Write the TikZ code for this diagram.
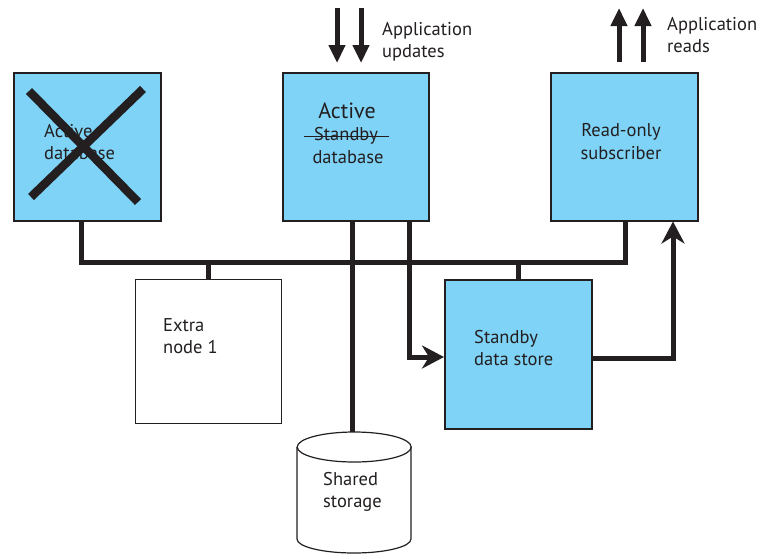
\documentclass[tikz,border=0pt]{standalone}
\usepackage{fontspec}
\setmainfont{PT Sans}
\usetikzlibrary{arrows.meta,calc}
\definecolor{boxblue}{RGB}{126,211,247}
\definecolor{ink}{RGB}{35,31,32}
\begin{document}
\begin{tikzpicture}[x=1pt,y=-1pt,
  box/.style={draw=ink, line width=1.5pt, fill=boxblue, inner sep=0pt, anchor=north west},
  wbox/.style={draw=ink, line width=1.2pt, fill=white, inner sep=0pt, anchor=north west},
  lbl/.style={font=\fontsize{18.5}{22.5}\selectfont, text=ink, inner sep=0pt, align=left, anchor=west},
  clbl/.style={font=\fontsize{18.5}{23}\selectfont, text=ink, inner sep=0pt, align=center},
  conn/.style={draw=ink, line width=5pt},
  apparrow/.style={draw=ink, line width=5pt, -{Triangle[length=18pt,width=16pt]}},
  flowarrow/.style={draw=ink, line width=5pt, -{Stealth[length=22pt,width=23pt,inset=7pt]}},
  cross/.style={draw=ink, line width=8.5pt}]
\useasboundingbox[fill=white] (0,0) rectangle (760,558);

% boxes
\node[box, minimum width=147pt, minimum height=148pt] (ldb) at (13,72) {};
\node[box, minimum width=146pt, minimum height=148pt] (adb) at (282,72) {};
\node[box, minimum width=147pt, minimum height=148pt] (ro) at (550,72) {};
\node[wbox, minimum width=146.5pt, minimum height=144pt] (extra) at (134.5,279) {};
\node[box, minimum width=147pt, minimum height=149pt] (sds) at (444,279) {};

% shared storage cylinder
\node[inner sep=0pt, minimum width=114pt, minimum height=122pt, anchor=north west] (stor) at (297,432) {};
\draw[ink, line width=1.2pt, fill=white] (stor.north west) ++(0,15) -- ++(0,92)
  arc[start angle=180, end angle=0, x radius=57, y radius=14] -- ++(0,-92);
\draw[ink, line width=1.2pt] ($(stor.north)+(0,15)$) ellipse [x radius=57, y radius=15];

% texts
\node[lbl] (tldb) at (44,142) {Active\\database};
\node[text=ink, inner sep=0pt, font=\fontsize{22}{26}\selectfont, anchor=base] (tact) at (347,118) {Active};
\node[text=ink, inner sep=0pt, font=\fontsize{18.5}{22}\selectfont, anchor=base] (tsb) at (346,140) {Standby};
\node[text=ink, inner sep=0pt, font=\fontsize{18.5}{22}\selectfont, anchor=base] (tdb) at (348,163) {database};
\draw[ink, line width=1.3pt] ($(tsb.west)+(-10,1.5)$) -- ($(tsb.east)+(11,1.5)$);
\node[clbl] (tro) at (621,142) {Read-only\\subscriber};
\node[lbl] (textra) at (163,336) {Extra\\node 1};
\node[lbl] (tsds) at (474,348) {Standby\\data store};
\node[lbl] (tstor) at (323,492) {Shared\\storage};
\node[lbl] (tupd) at (382,42) {Application\\updates};
\node[lbl] (treads) at (667,35) {Application\\reads};

% cross over failed database
\draw[cross] (29,91) -- (138,202);
\draw[cross] (143,89) -- (31,197);

% bus
\coordinate (bl) at (81,262);
\coordinate (br) at (625,262);
\draw[conn, line join=miter] (bl |- ldb.south) -- (bl) -- (br) -- (br |- ro.south);
\draw[conn] (extra.north) -- (extra.north |- bl);
\draw[conn] (sds.north) -- (sds.north |- bl);

% storage link
\coordinate (s1) at (352,0);
\draw[conn] (s1 |- adb.south) -- (s1 |- stor.north);

% replication to standby data store
\coordinate (rp) at (409,357);
\draw[flowarrow, line join=miter] (rp |- adb.south) -- (rp) -- (rp -| sds.west);

% standby data store to subscriber
\coordinate (sp) at (673,358);
\draw[flowarrow, line join=miter] (sp -| sds.east) -- (sp) -- (sp |- ro.south);

% application arrows
\coordinate (u1) at (337,8);
\coordinate (u2) at (361,8);
\draw[apparrow, shorten >=9pt] (u1) -- (u1 |- adb.north);
\draw[apparrow, shorten >=9pt] (u2) -- (u2 |- adb.north);
\coordinate (r1) at (619,8);
\coordinate (r2) at (643,8);
\draw[apparrow, shorten <=10pt] (r1 |- ro.north) -- (r1);
\draw[apparrow, shorten <=10pt] (r2 |- ro.north) -- (r2);
\end{tikzpicture}
\end{document}
